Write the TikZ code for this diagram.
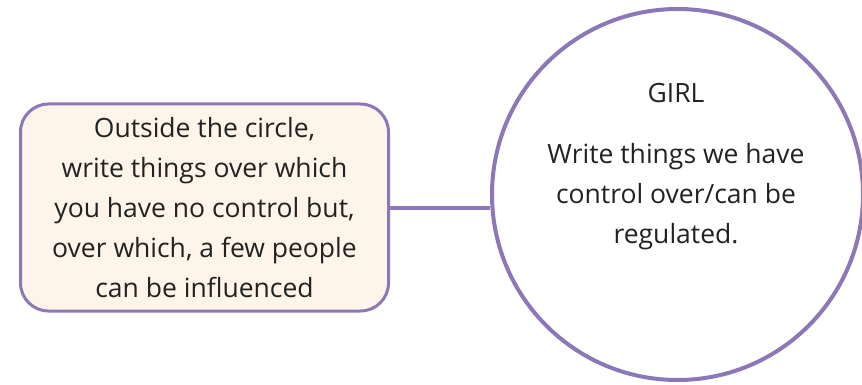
\documentclass[tikz,border=0pt]{standalone}
\usepackage{fontspec}
\setmainfont{Open Sans}
\definecolor{ringpurple}{HTML}{8C77B8}
\definecolor{notecream}{HTML}{FEF4E9}
\definecolor{inkgrey}{HTML}{222222}
\tikzset{
  notebox/.style={draw=ringpurple, line width=3pt, fill=notecream, rounded corners=28pt,
    minimum width=368pt, minimum height=207pt, align=center, text=inkgrey,
    font=\fontsize{26.5}{40}\selectfont},
  ring/.style={draw=ringpurple, line width=4pt, circle, minimum size=371pt},
  ringtext/.style={align=center, text=inkgrey, font=\fontsize{26.5}{40}\selectfont},
  link/.style={draw=ringpurple, line width=4pt}
}
\begin{document}
\begin{tikzpicture}[x=1pt,y=-1pt]
\useasboundingbox (0,0) rectangle (862,385);

\node[ring] (circ) at (677.5,194.5) {};
\node[ringtext] (girl) at (676,93) {GIRL};
\node[ringtext] (inside) at (676,197) {Write things we have\\control over/can be\\regulated.};

\node[notebox] (outside) at (204.5,207.5) {Outside the circle,\\write things over which\\you have no control but,\\over which, a few people\\can be influenced};

\draw[link] (outside.east) -- (outside.east -| circ.west);
\end{tikzpicture}
\end{document}
